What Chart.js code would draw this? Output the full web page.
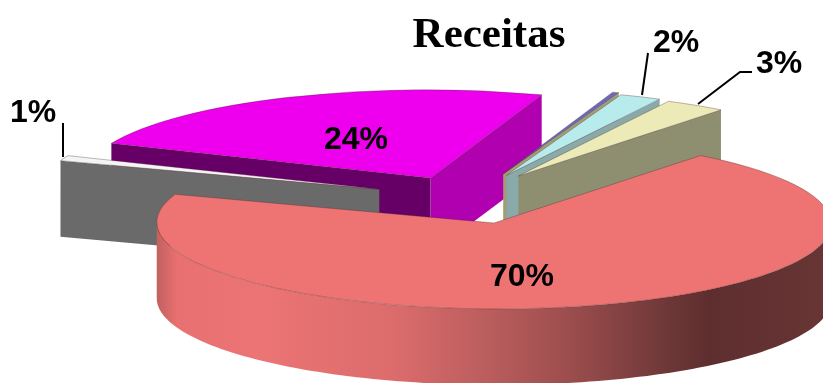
<!DOCTYPE html>
<html>
<head>
<meta charset="utf-8">
<title>Receitas</title>
<script src="https://cdn.jsdelivr.net/npm/chart.js@4/dist/chart.umd.js"></script>
<style>
  html, body { margin: 0; padding: 0; background: #fff; }
  canvas { display: block; }
</style>
</head>
<body>
<canvas id="myChart" width="823" height="383"></canvas>
<script>
var categories = ['A', 'B', 'C', 'D', 'E', 'F'];
var values = [70, 1, 24, 0.3, 2, 3];
var valueLabels = ['70%', '1%', '24%', '', '2%', '3%'];

var topColors = ['#ee7474', '#f4f4f4', '#ee00ee', '#6a6ab8', '#b8ecec', '#ecebb8'];
var startWalls = [null, '#6a6a6a', '#660066', null, null, null];
var endWalls = [null, null, '#b000b0', '#a39d72', '#8aa9a9', '#8e8e70'];
var explode = [[0, 0], [-0.214, -0.47], [-0.03, -0.555], [0.19, -0.538], [0.195, -0.521], [0.227, -0.504]];
var reach = [1, 1, 1.025, 1.01, 1, 0.98];
var wallOrder = [2, 3, 4, 5, 1];

var labelSpots = [[522, 286], [33, 122], [356, 149], null, [676, 52], [779, 73]];
var leaders = [
    [[63, 123], [63, 157]],
    [[648, 53], [642, 95]],
    [[698, 104], [740, 72], [752, 72]]
];

// the tilted disc: where the unit x and y of the pie end up on screen
var disc = { cx: 494, cy: 223, ax: 323, ay: -24, bx: 97, by: 82.5, depth: 76 };

function toScreen(chart, px, py) {
    var p = chart.$pie;
    var u = (px - p.x) / p.r;
    var v = (py - p.y) / p.r;
    return [disc.cx + disc.ax * u + disc.bx * v, disc.cy + disc.ay * u + disc.by * v];
}

function radialWall(chart, ctx, arc, angle, color) {
    var a = toScreen(chart, arc.x, arc.y);
    var b = toScreen(chart, arc.x + Math.cos(angle) * arc.outerRadius, arc.y + Math.sin(angle) * arc.outerRadius);
    ctx.fillStyle = color;
    ctx.beginPath();
    ctx.moveTo(a[0], a[1]);
    ctx.lineTo(b[0], b[1]);
    ctx.lineTo(b[0], b[1] + disc.depth);
    ctx.lineTo(a[0], a[1] + disc.depth);
    ctx.closePath();
    ctx.fill();
}

function outerWall(chart, ctx, arc) {
    var span = Math.sqrt(disc.ax * disc.ax + disc.bx * disc.bx);
    var g = ctx.createLinearGradient(disc.cx - span, 0, disc.cx + span, 0);
    g.addColorStop(0, '#c26060');
    g.addColorStop(0.03, '#e87070');
    g.addColorStop(0.15, '#ec7474');
    g.addColorStop(0.35, '#dc6c6c');
    g.addColorStop(0.5, '#b85c5c');
    g.addColorStop(0.62, '#9a4c4c');
    g.addColorStop(0.74, '#733a3a');
    g.addColorStop(0.82, '#5e2e2e');
    g.addColorStop(1, '#693535');
    // only the part of the rim that faces the viewer, extreme left to extreme right
    var from = Math.atan2(disc.bx, disc.ax);
    var steps = 120;
    var i, t, s;
    ctx.fillStyle = g;
    ctx.beginPath();
    for (i = 0; i <= steps; i++) {
        t = from + Math.PI * i / steps;
        s = toScreen(chart, arc.x + Math.cos(t) * arc.outerRadius, arc.y + Math.sin(t) * arc.outerRadius);
        ctx.lineTo(s[0], s[1]);
    }
    for (i = steps; i >= 0; i--) {
        t = from + Math.PI * i / steps;
        s = toScreen(chart, arc.x + Math.cos(t) * arc.outerRadius, arc.y + Math.sin(t) * arc.outerRadius);
        ctx.lineTo(s[0], s[1] + disc.depth);
    }
    ctx.closePath();
    ctx.fill();
}

var tiltedPie = {
    id: 'tiltedPie',
    afterDatasetsUpdate: function (chart) {
        var arcs = chart.getDatasetMeta(0).data;
        chart.$pie = { x: arcs[0].x, y: arcs[0].y, r: arcs[0].outerRadius };
        arcs.forEach(function (arc, i) {
            arc.x += explode[i][0] * chart.$pie.r;
            arc.y += explode[i][1] * chart.$pie.r;
            arc.outerRadius *= reach[i];
        });
    },
    beforeDatasetsDraw: function (chart) {
        var ctx = chart.ctx;
        var arcs = chart.getDatasetMeta(0).data;
        var p = chart.$pie;
        wallOrder.forEach(function (i) {
            if (endWalls[i]) radialWall(chart, ctx, arcs[i], arcs[i].endAngle, endWalls[i]);
            if (startWalls[i]) radialWall(chart, ctx, arcs[i], arcs[i].startAngle, startWalls[i]);
        });
        outerWall(chart, ctx, arcs[0]);
        // tops are drawn by the library, through the same tilt
        ctx.save();
        ctx.transform(disc.ax / p.r, disc.ay / p.r, disc.bx / p.r, disc.by / p.r, disc.cx, disc.cy);
        ctx.translate(-p.x, -p.y);
    },
    afterDatasetsDraw: function (chart) {
        chart.ctx.restore();
    },
    afterDraw: function (chart) {
        var ctx = chart.ctx;
        ctx.save();
        ctx.strokeStyle = '#000';
        ctx.lineWidth = 2;
        leaders.forEach(function (line) {
            ctx.beginPath();
            line.forEach(function (pt, i) {
                if (i === 0) ctx.moveTo(pt[0], pt[1]);
                else ctx.lineTo(pt[0], pt[1]);
            });
            ctx.stroke();
        });
        ctx.fillStyle = '#000';
        ctx.textAlign = 'center';
        ctx.textBaseline = 'alphabetic';
        ctx.font = 'bold 32px "Liberation Sans"';
        valueLabels.forEach(function (text, i) {
            if (labelSpots[i]) ctx.fillText(text, labelSpots[i][0], labelSpots[i][1]);
        });
        ctx.font = 'bold 43px "Liberation Serif"';
        ctx.fillText('Receitas', 489, 47);
        ctx.restore();
    }
};

var myChart = new Chart('myChart', {
    type: 'pie',
    data: {
        labels: categories,
        datasets: [{
            data: values,
            backgroundColor: topColors,
            borderColor: 'rgba(70, 40, 40, 0.55)',
            borderWidth: 0.5,
            clip: false
        }]
    },
    options: {
        responsive: false,
        animation: false,
        rotation: 54.5,
        events: [],
        plugins: {
            legend: { display: false },
            tooltip: { enabled: false }
        }
    },
    plugins: [tiltedPie]
});
</script>
</body>
</html>
